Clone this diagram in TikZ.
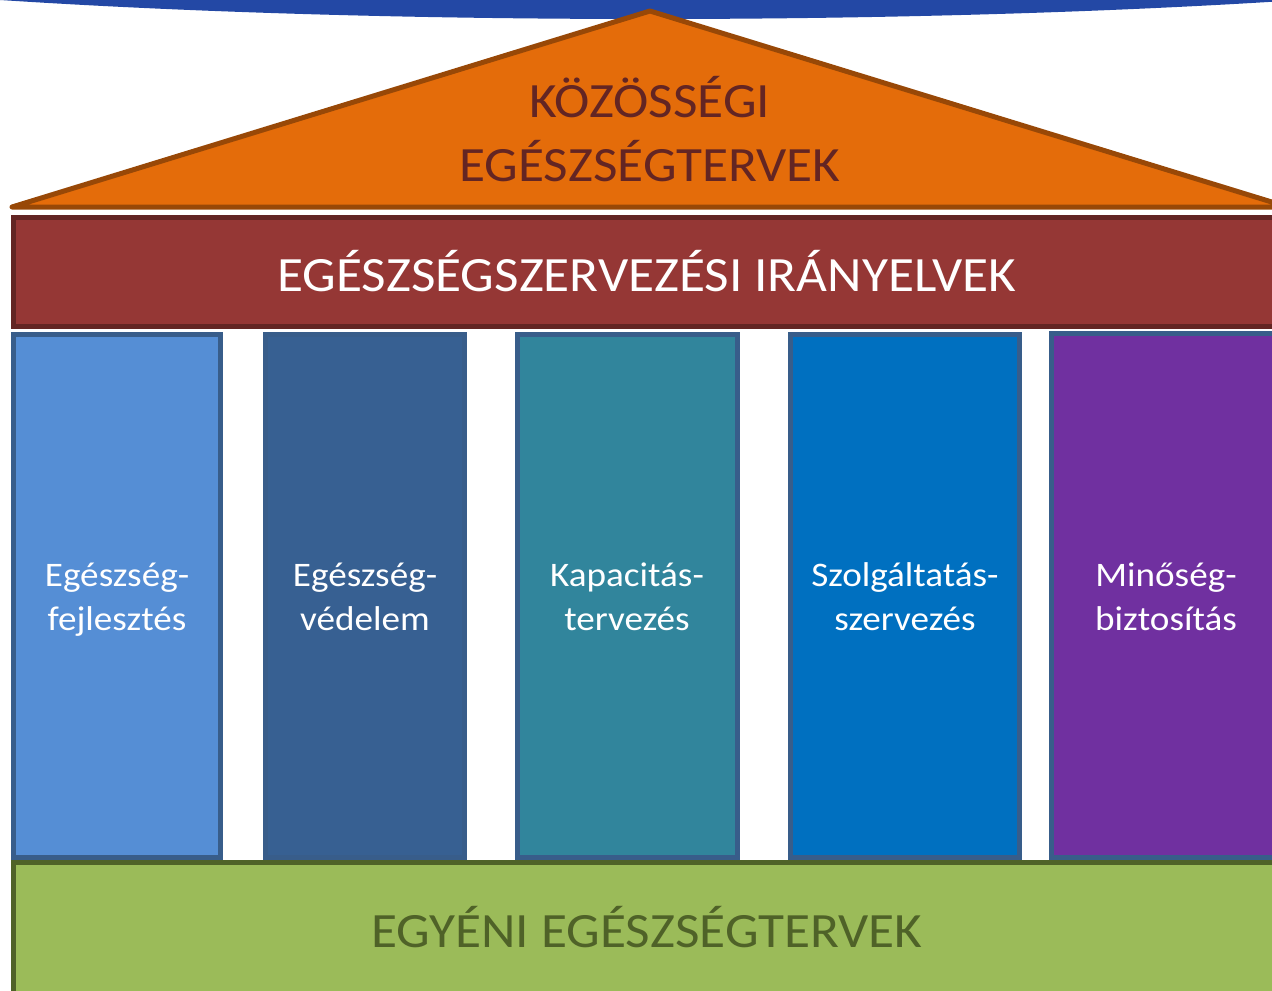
\documentclass[tikz,border=0pt]{standalone}
\usepackage{fontspec}
\setmainfont[FakeStretch=1.08]{Carlito}
\definecolor{skyblue}{RGB}{35,72,165}
\definecolor{roofFill}{RGB}{228,108,10}
\definecolor{roofLine}{RGB}{152,72,7}
\definecolor{roofText}{RGB}{99,37,35}
\definecolor{beamFill}{RGB}{149,55,53}
\definecolor{beamLine}{RGB}{99,37,35}
\definecolor{colLine}{RGB}{56,93,138}
\definecolor{colA}{RGB}{85,142,213}
\definecolor{colB}{RGB}{55,96,146}
\definecolor{colC}{RGB}{49,133,156}
\definecolor{colD}{RGB}{0,112,192}
\definecolor{colE}{RGB}{112,48,160}
\definecolor{baseFill}{RGB}{155,187,89}
\definecolor{baseLine}{RGB}{79,98,40}
\begin{document}
\begin{tikzpicture}[x=0.75pt,y=-0.75pt,
  pillar/.style={draw=colLine,line width=3.75pt},
  pillartext/.style={text=white,align=center,font=\fontsize{25.8}{33}\selectfont},
  bigtext/.style={font=\fontsize{37}{48.5}\selectfont,align=center}]
\useasboundingbox (0,0) rectangle (1272,990);
\clip (0,0) rectangle (1272,990);
% sky arc
\fill[skyblue] (650,-81) ellipse [x radius=1108, y radius=100];
% roof
\draw[fill=roofFill,draw=roofLine,line width=3.75pt,line join=round] (12,207) -- (650,11) -- (1288,207) -- cycle;
\node[bigtext,text=roofText] (roof) at (650,129) {KÖZÖSSÉGI\\EGÉSZSÉGTERVEK};
% beam
\draw[fill=beamFill,draw=beamLine,line width=3.75pt] (13.5,217.5) rectangle (1300,326.5);
\node[text=white,font=\fontsize{37}{44}\selectfont] (beam) at (647,271) {EGÉSZSÉGSZERVEZÉSI IRÁNYELVEK};
% pillars
\draw[pillar,fill=colA] (13.5,334.5) rectangle (220.5,857.5);
\draw[pillar,fill=colB] (265.5,334.5) rectangle (464.5,857.5);
\draw[pillar,fill=colC] (517.5,334.5) rectangle (737.5,857.5);
\draw[pillar,fill=colD] (790.5,334.5) rectangle (1019.5,857.5);
\draw[pillar,fill=colE] (1051.5,333.5) rectangle (1300,857.5);
\node[pillartext] (p1) at (117,600) {Egészség-\\fejlesztés};
\node[pillartext] (p2) at (365,597) {Egészség-\\védelem};
\node[pillartext] (p3) at (627,597) {Kapacitás-\\tervezés};
\node[pillartext] (p4) at (905,597) {Szolgáltatás-\\szervezés};
\node[pillartext] (p5) at (1166,597) {Minőség-\\biztosítás};
% base
\draw[fill=baseFill,draw=baseLine,line width=3.75pt] (13.5,862.5) rectangle (1300,1010);
\node[bigtext,text=baseLine] (base) at (647,927) {EGYÉNI EGÉSZSÉGTERVEK};
\end{tikzpicture}
\end{document}
